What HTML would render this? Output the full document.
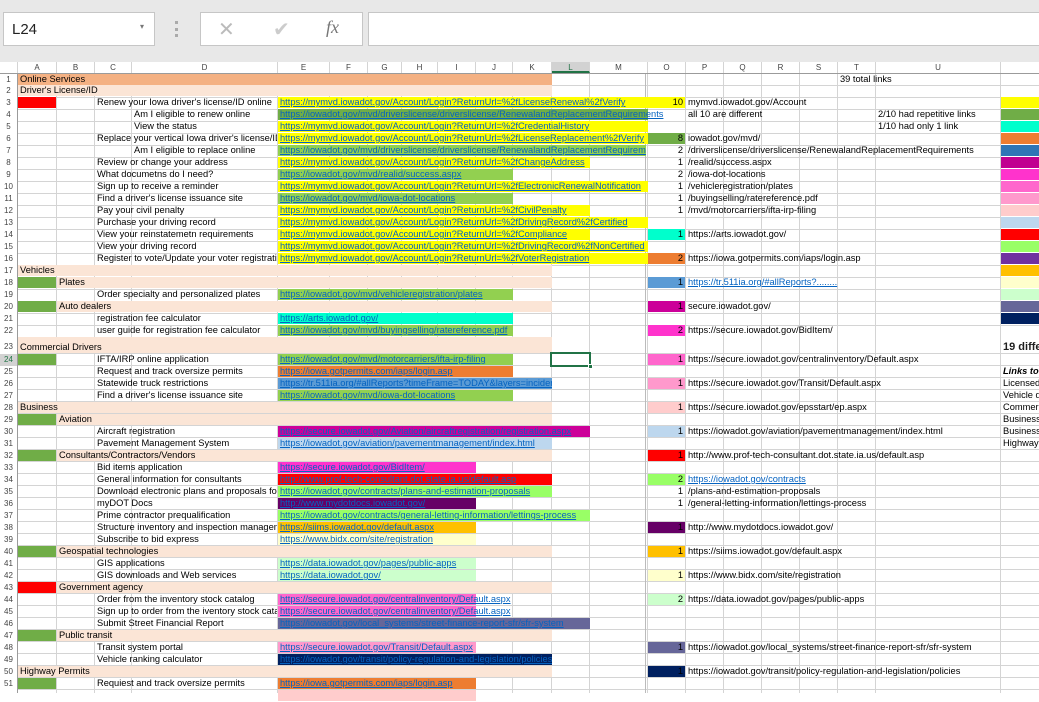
<!DOCTYPE html>
<html><head><meta charset="utf-8"><style>
*{margin:0;padding:0;box-sizing:border-box}
body{width:1039px;height:693px;overflow:hidden;background:#fff;font-family:"Liberation Sans",Arial,sans-serif;font-size:9.3px;color:#000;position:relative}
.top{position:absolute;left:0;top:0;width:1039px;height:62px;background:#e8e8e8}
.box{position:absolute;background:#fff;border:1px solid #c6c6c6}
.hdr{position:absolute;left:0;top:62px;width:1039px;height:12px;background:#fff;border-bottom:1px solid #9b9b9b}
.hc{position:absolute;top:0;height:11px;line-height:11px;text-align:center;color:#444;font-size:8px;border-right:1px solid #d4d4d4}
.grid{position:absolute;left:0;width:1039px}
.vl{position:absolute;top:74px;width:1px;height:619px;background:#d4d4d4}
.r{position:absolute;left:0;width:1039px;height:12px}
.c{position:absolute;top:0;height:11px;line-height:11px;white-space:nowrap;overflow:hidden;padding-left:2px}
.a{color:#0563c1;text-decoration:underline}
.n{text-align:right;padding-right:2px;padding-left:0}
.pe{background:#fbe5d6}
</style></head><body>
<div class="top">
 <div class="box" style="left:3px;top:12px;width:152px;height:34px"><span style="position:absolute;left:8px;top:8px;font-size:15px;color:#222">L24</span><span style="position:absolute;left:136px;top:9px;font-size:8px;color:#777">▾</span></div>
 <div style="position:absolute;left:175px;top:21px;width:3px;height:16px;border-left:3px dotted #aaa"></div>
 <div class="box" style="left:200px;top:12px;width:163px;height:34px"><span style="position:absolute;left:17px;top:4px;font-size:20px;color:#bbb">✕</span><span style="position:absolute;left:72px;top:4px;font-size:20px;color:#ccc">✔</span><span style="position:absolute;left:125px;top:4px;font-size:18px;font-style:italic;font-family:'Liberation Serif',serif;color:#777">fx</span></div>
 <div class="box" style="left:368px;top:12px;width:680px;height:34px"></div>
</div>
<div class="hdr">
 <div class="hc" style="left:0;width:18px"></div>
 <div class="hc" style="left:18px;width:39px">A</div><div class="hc" style="left:57px;width:38px">B</div><div class="hc" style="left:95px;width:37px">C</div><div class="hc" style="left:132px;width:146px">D</div><div class="hc" style="left:278px;width:52px">E</div><div class="hc" style="left:330px;width:38px">F</div><div class="hc" style="left:368px;width:34px">G</div><div class="hc" style="left:402px;width:36px">H</div><div class="hc" style="left:438px;width:38px">I</div><div class="hc" style="left:476px;width:37px">J</div><div class="hc" style="left:513px;width:39px">K</div><div class="hc" style="left:552px;width:38px;background:#d2d2d2;color:#217346;border-bottom:2px solid #217346">L</div><div class="hc" style="left:590px;width:58px">M</div><div class="hc" style="left:648px;width:38px">O</div><div class="hc" style="left:686px;width:38px">P</div><div class="hc" style="left:724px;width:38px">Q</div><div class="hc" style="left:762px;width:38px">R</div><div class="hc" style="left:800px;width:38px">S</div><div class="hc" style="left:838px;width:38px">T</div><div class="hc" style="left:876px;width:125px">U</div>
</div>
<div class="grid" style="top:74px;height:263px;background:repeating-linear-gradient(to bottom,transparent 0,transparent 11px,#d4d4d4 11px,#d4d4d4 12px)"></div>
<div class="grid" style="top:353px;height:1px;background:#d4d4d4"></div>
<div class="grid" style="top:354px;height:339px;background:repeating-linear-gradient(to bottom,transparent 0,transparent 11px,#d4d4d4 11px,#d4d4d4 12px)"></div>
<div class="vl" style="left:56px"></div><div class="vl" style="left:94px"></div><div class="vl" style="left:131px"></div><div class="vl" style="left:277px"></div><div class="vl" style="left:329px"></div><div class="vl" style="left:367px"></div><div class="vl" style="left:401px"></div><div class="vl" style="left:437px"></div><div class="vl" style="left:475px"></div><div class="vl" style="left:512px"></div><div class="vl" style="left:551px"></div><div class="vl" style="left:589px"></div><div class="vl" style="left:645px;background:#bbb"></div><div class="vl" style="left:647px"></div><div class="vl" style="left:685px"></div><div class="vl" style="left:723px"></div><div class="vl" style="left:761px"></div><div class="vl" style="left:799px"></div><div class="vl" style="left:837px"></div><div class="vl" style="left:875px"></div><div class="vl" style="left:1000px"></div>

<div class="r" style="top:74px"><div class="c" style="left:18px;width:534px;background:#f4b183">Online Services</div><div class="c" style="left:838px;width:120px">39 total links</div></div>
<div class="r" style="top:85px"><div class="c pe" style="left:18px;width:534px">Driver's License/ID</div></div>
<div class="r" style="top:97px"><div class="c" style="left:18px;width:38px;background:#f00"></div><div class="c" style="left:95px;width:182px">Renew your Iowa driver's license/ID online</div><div class="c a" style="left:278px;width:370px;background:#ff0">https://mymvd.iowadot.gov/Account/Login?ReturnUrl=%2fLicenseRenewal%2fVerify</div><div class="c n" style="left:648px;width:37px;background:#ff0">10</div><div class="c" style="left:686px;width:150px">mymvd.iowadot.gov/Account</div><div class="c" style="left:1001px;width:38px;background:#ff0"></div></div>
<div class="r" style="top:109px"><div class="c" style="left:132px;width:145px">Am I eligible to renew online</div><div class="c" style="left:278px;width:370px;background:#70ad47"></div><div class="c a" style="left:278px;width:400px">https://iowadot.gov/mvd/driverslicense/driverslicense/RenewalandReplacementRequirements</div><div class="c" style="left:686px;width:110px">all 10 are different</div><div class="c" style="left:876px;width:124px">2/10 had repetitive links</div><div class="c" style="left:1001px;width:38px;background:#70ad47"></div></div>
<div class="r" style="top:121px"><div class="c" style="left:132px;width:145px">View the status</div><div class="c a" style="left:278px;width:370px;background:#ff0">https://mymvd.iowadot.gov/Account/Login?ReturnUrl=%2fCredentialHistory</div><div class="c" style="left:876px;width:124px">1/10 had only 1 link</div><div class="c" style="left:1001px;width:38px;background:#00ffcc"></div></div>
<div class="r" style="top:133px"><div class="c" style="left:95px;width:182px">Replace your vertical Iowa driver's license/ID</div><div class="c a" style="left:278px;width:370px;background:#ff0">https://mymvd.iowadot.gov/Account/Login?ReturnUrl=%2fLicenseReplacement%2fVerify</div><div class="c n" style="left:648px;width:37px;background:#70ad47">8</div><div class="c" style="left:686px;width:150px">iowadot.gov/mvd/</div><div class="c" style="left:1001px;width:38px;background:#ed7d31"></div></div>
<div class="r" style="top:145px"><div class="c" style="left:132px;width:145px">Am I eligible to replace online</div><div class="c a" style="left:278px;width:368px;background:#92d050">https://iowadot.gov/mvd/driverslicense/driverslicense/RenewalandReplacementRequirements</div><div class="c n" style="left:648px;width:37px">2</div><div class="c" style="left:686px;width:314px">/driverslicense/driverslicense/RenewalandReplacementRequirements</div><div class="c" style="left:1001px;width:38px;background:#2e75b6"></div></div>
<div class="r" style="top:157px"><div class="c" style="left:95px;width:182px">Review or change your address</div><div class="c a" style="left:278px;width:312px;background:#ff0">https://mymvd.iowadot.gov/Account/Login?ReturnUrl=%2fChangeAddress</div><div class="c n" style="left:648px;width:37px">1</div><div class="c" style="left:686px;width:150px">/realid/success.aspx</div><div class="c" style="left:1001px;width:38px;background:#c00090"></div></div>
<div class="r" style="top:169px"><div class="c" style="left:95px;width:182px">What documetns do I need?</div><div class="c a" style="left:278px;width:235px;background:#92d050">https://iowadot.gov/mvd/realid/success.aspx</div><div class="c n" style="left:648px;width:37px">2</div><div class="c" style="left:686px;width:150px">/iowa-dot-locations</div><div class="c" style="left:1001px;width:38px;background:#ff33cc"></div></div>
<div class="r" style="top:181px"><div class="c" style="left:95px;width:182px">Sign up to receive a reminder</div><div class="c a" style="left:278px;width:370px;background:#ff0">https://mymvd.iowadot.gov/Account/Login?ReturnUrl=%2fElectronicRenewalNotification</div><div class="c n" style="left:648px;width:37px">1</div><div class="c" style="left:686px;width:150px">/vehicleregistration/plates</div><div class="c" style="left:1001px;width:38px;background:#ff66cc"></div></div>
<div class="r" style="top:193px"><div class="c" style="left:95px;width:182px">Find a driver's license issuance site</div><div class="c a" style="left:278px;width:235px;background:#92d050">https://iowadot.gov/mvd/iowa-dot-locations</div><div class="c n" style="left:648px;width:37px">1</div><div class="c" style="left:686px;width:150px">/buyingselling/ratereference.pdf</div><div class="c" style="left:1001px;width:38px;background:#ff99cc"></div></div>
<div class="r" style="top:205px"><div class="c" style="left:95px;width:182px">Pay your civil penalty</div><div class="c a" style="left:278px;width:312px;background:#ff0">https://mymvd.iowadot.gov/Account/Login?ReturnUrl=%2fCivilPenalty</div><div class="c n" style="left:648px;width:37px">1</div><div class="c" style="left:686px;width:150px">/mvd/motorcarriers/ifta-irp-filing</div><div class="c" style="left:1001px;width:38px;background:#ffcccc"></div></div>
<div class="r" style="top:217px"><div class="c" style="left:95px;width:182px">Purchase your driving record</div><div class="c a" style="left:278px;width:370px;background:#ff0">https://mymvd.iowadot.gov/Account/Login?ReturnUrl=%2fDrivingRecord%2fCertified</div><div class="c" style="left:1001px;width:38px;background:#bdd7ee"></div></div>
<div class="r" style="top:229px"><div class="c" style="left:95px;width:182px">View your reinstatemetn requirements</div><div class="c a" style="left:278px;width:312px;background:#ff0">https://mymvd.iowadot.gov/Account/Login?ReturnUrl=%2fCompliance</div><div class="c n" style="left:648px;width:37px;background:#00ffcc">1</div><div class="c" style="left:686px;width:150px">https://arts.iowadot.gov/</div><div class="c" style="left:1001px;width:38px;background:#f00"></div></div>
<div class="r" style="top:241px"><div class="c" style="left:95px;width:182px">View your driving record</div><div class="c a" style="left:278px;width:370px;background:#ff0">https://mymvd.iowadot.gov/Account/Login?ReturnUrl=%2fDrivingRecord%2fNonCertified</div><div class="c" style="left:1001px;width:38px;background:#99ff66"></div></div>
<div class="r" style="top:253px"><div class="c" style="left:95px;width:182px">Register to vote/Update your voter registration</div><div class="c a" style="left:278px;width:370px;background:#ff0">https://mymvd.iowadot.gov/Account/Login?ReturnUrl=%2fVoterRegistration</div><div class="c n" style="left:648px;width:37px;background:#ed7d31">2</div><div class="c" style="left:686px;width:200px">https://iowa.gotpermits.com/iaps/login.asp</div><div class="c" style="left:1001px;width:38px;background:#7030a0"></div></div>
<div class="r" style="top:265px"><div class="c pe" style="left:18px;width:534px">Vehicles</div><div class="c" style="left:1001px;width:38px;background:#ffc000"></div></div>
<div class="r" style="top:277px"><div class="c" style="left:18px;width:38px;background:#70ad47"></div><div class="c pe" style="left:57px;width:495px">Plates</div><div class="c n" style="left:648px;width:37px;background:#5b9bd5">1</div><div class="c a" style="left:686px;width:170px">https://tr.511ia.org/#allReports?........</div><div class="c" style="left:1001px;width:38px;background:#ffffcc"></div></div>
<div class="r" style="top:289px"><div class="c" style="left:95px;width:182px">Order specialty and personalized plates</div><div class="c a" style="left:278px;width:235px;background:#92d050">https://iowadot.gov/mvd/vehicleregistration/plates</div><div class="c" style="left:1001px;width:38px;background:#ccffcc"></div></div>
<div class="r" style="top:301px"><div class="c" style="left:18px;width:38px;background:#70ad47"></div><div class="c pe" style="left:57px;width:495px">Auto dealers</div><div class="c n" style="left:648px;width:37px;background:#cc0099">1</div><div class="c" style="left:686px;width:150px">secure.iowadot.gov/</div><div class="c" style="left:1001px;width:38px;background:#666699"></div></div>
<div class="r" style="top:313px"><div class="c" style="left:95px;width:182px">registration fee calculator</div><div class="c a" style="left:278px;width:235px;background:#00ffcc">https://arts.iowadot.gov/</div><div class="c" style="left:1001px;width:38px;background:#002060"></div></div>
<div class="r" style="top:325px"><div class="c" style="left:95px;width:182px">user guide for registration fee calculator</div><div class="c a" style="left:278px;width:235px;background:#92d050">https://iowadot.gov/mvd/buyingselling/ratereference.pdf</div><div class="c n" style="left:648px;width:37px;background:#ff33cc">2</div><div class="c" style="left:686px;width:180px">https://secure.iowadot.gov/BidItem/</div></div>
<div class="r" style="top:337px;height:17px"><div class="c pe" style="left:18px;width:534px;height:16px;line-height:20px">Commercial Drivers</div><div class="c" style="left:1001px;width:38px;height:16px;line-height:20px;font-weight:bold;font-size:11px;color:#1f1f1f">19 different</div></div>
<div class="r" style="top:354px"><div class="c" style="left:18px;width:38px;background:#70ad47"></div><div class="c" style="left:95px;width:182px">IFTA/IRP online application</div><div class="c a" style="left:278px;width:235px;background:#92d050">https://iowadot.gov/mvd/motorcarriers/ifta-irp-filing</div><div class="c n" style="left:648px;width:37px;background:#ff66cc">1</div><div class="c" style="left:686px;width:250px">https://secure.iowadot.gov/centralinventory/Default.aspx</div></div>
<div class="r" style="top:366px"><div class="c" style="left:95px;width:182px">Request and track oversize permits</div><div class="c a" style="left:278px;width:235px;background:#ed7d31">https://iowa.gotpermits.com/iaps/login.asp</div><div class="c" style="left:1001px;width:38px;font-weight:bold;font-style:italic">Links to</div></div>
<div class="r" style="top:378px"><div class="c" style="left:95px;width:182px">Statewide truck restrictions</div><div class="c a" style="left:278px;width:274px;background:#5b9bd5">https://tr.511ia.org/#allReports?timeFrame=TODAY&amp;layers=incidents</div><div class="c n" style="left:648px;width:37px;background:#ff99cc">1</div><div class="c" style="left:686px;width:250px">https://secure.iowadot.gov/Transit/Default.aspx</div><div class="c" style="left:1001px;width:38px">Licensed</div></div>
<div class="r" style="top:390px"><div class="c" style="left:95px;width:182px">Find a driver's license issuance site</div><div class="c a" style="left:278px;width:235px;background:#92d050">https://iowadot.gov/mvd/iowa-dot-locations</div><div class="c" style="left:1001px;width:38px">Vehicle d</div></div>
<div class="r" style="top:402px"><div class="c pe" style="left:18px;width:534px">Business</div><div class="c n" style="left:648px;width:37px;background:#ffcccc">1</div><div class="c" style="left:686px;width:250px">https://secure.iowadot.gov/epsstart/ep.aspx</div><div class="c" style="left:1001px;width:38px">Commerc</div></div>
<div class="r" style="top:414px"><div class="c" style="left:18px;width:38px;background:#70ad47"></div><div class="c pe" style="left:57px;width:495px">Aviation</div><div class="c" style="left:1001px;width:38px">Business</div></div>
<div class="r" style="top:426px"><div class="c" style="left:95px;width:182px">Aircraft registration</div><div class="c a" style="left:278px;width:312px;background:#cc0099">https://secure.iowadot.gov/Aviation/aircraftregistration/registration.aspx</div><div class="c n" style="left:648px;width:37px;background:#bdd7ee">1</div><div class="c" style="left:686px;width:280px">https://iowadot.gov/aviation/pavementmanagement/index.html</div><div class="c" style="left:1001px;width:38px">Business</div></div>
<div class="r" style="top:438px"><div class="c" style="left:95px;width:182px">Pavement Management System</div><div class="c a" style="left:278px;width:274px;background:#bdd7ee">https://iowadot.gov/aviation/pavementmanagement/index.html</div><div class="c" style="left:1001px;width:38px">Highway</div></div>
<div class="r" style="top:450px"><div class="c" style="left:18px;width:38px;background:#70ad47"></div><div class="c pe" style="left:57px;width:495px">Consultants/Contractors/Vendors</div><div class="c n" style="left:648px;width:37px;background:#f00">1</div><div class="c" style="left:686px;width:280px">http://www.prof-tech-consultant.dot.state.ia.us/default.asp</div></div>
<div class="r" style="top:462px"><div class="c" style="left:95px;width:182px">Bid items application</div><div class="c a" style="left:278px;width:198px;background:#ff33cc">https://secure.iowadot.gov/BidItem/</div></div>
<div class="r" style="top:474px"><div class="c" style="left:95px;width:182px">General information for consultants</div><div class="c a" style="left:278px;width:274px;background:#f00">http://www.prof-tech-consultant.dot.state.ia.us/default.asp</div><div class="c n" style="left:648px;width:37px;background:#99ff66">2</div><div class="c a" style="left:686px;width:200px">https://iowadot.gov/contracts</div></div>
<div class="r" style="top:486px"><div class="c" style="left:95px;width:182px">Download electronic plans and proposals for</div><div class="c a" style="left:278px;width:274px;background:#99ff66">https://iowadot.gov/contracts/plans-and-estimation-proposals</div><div class="c n" style="left:648px;width:37px">1</div><div class="c" style="left:686px;width:250px">/plans-and-estimation-proposals</div></div>
<div class="r" style="top:498px"><div class="c" style="left:95px;width:182px">myDOT Docs</div><div class="c a" style="left:278px;width:198px;background:#660066">http://www.mydotdocs.iowadot.gov/</div><div class="c n" style="left:648px;width:37px">1</div><div class="c" style="left:686px;width:250px">/general-letting-information/lettings-process</div></div>
<div class="r" style="top:510px"><div class="c" style="left:95px;width:182px">Prime contractor prequalification</div><div class="c a" style="left:278px;width:312px;background:#99ff66">https://iowadot.gov/contracts/general-letting-information/lettings-process</div></div>
<div class="r" style="top:522px"><div class="c" style="left:95px;width:182px">Structure inventory and inspection management</div><div class="c a" style="left:278px;width:198px;background:#ffc000">https://siims.iowadot.gov/default.aspx</div><div class="c n" style="left:648px;width:37px;background:#660066">1</div><div class="c" style="left:686px;width:250px">http://www.mydotdocs.iowadot.gov/</div></div>
<div class="r" style="top:534px"><div class="c" style="left:95px;width:182px">Subscribe to bid express</div><div class="c a" style="left:278px;width:198px;background:#ffffcc">https://www.bidx.com/site/registration</div></div>
<div class="r" style="top:546px"><div class="c" style="left:18px;width:38px;background:#70ad47"></div><div class="c pe" style="left:57px;width:495px">Geospatial technologies</div><div class="c n" style="left:648px;width:37px;background:#ffc000">1</div><div class="c" style="left:686px;width:250px">https://siims.iowadot.gov/default.aspx</div></div>
<div class="r" style="top:558px"><div class="c" style="left:95px;width:182px">GIS applications</div><div class="c a" style="left:278px;width:198px;background:#ccffcc">https://data.iowadot.gov/pages/public-apps</div></div>
<div class="r" style="top:570px"><div class="c" style="left:95px;width:182px">GIS downloads and Web services</div><div class="c a" style="left:278px;width:198px;background:#ccffcc">https://data.iowadot.gov/</div><div class="c n" style="left:648px;width:37px;background:#ffffcc">1</div><div class="c" style="left:686px;width:250px">https://www.bidx.com/site/registration</div></div>
<div class="r" style="top:582px"><div class="c" style="left:18px;width:38px;background:#f00"></div><div class="c pe" style="left:57px;width:495px">Government agency</div></div>
<div class="r" style="top:594px"><div class="c" style="left:95px;width:182px">Order from the inventory stock catalog</div><div class="c" style="left:278px;width:198px;background:#ff66cc"></div><div class="c a" style="left:278px;width:260px">https://secure.iowadot.gov/centralinventory/Default.aspx</div><div class="c n" style="left:648px;width:37px;background:#ccffcc">2</div><div class="c" style="left:686px;width:250px">https://data.iowadot.gov/pages/public-apps</div></div>
<div class="r" style="top:606px"><div class="c" style="left:95px;width:182px">Sign up to order from the iventory stock catalog</div><div class="c" style="left:278px;width:198px;background:#ff66cc"></div><div class="c a" style="left:278px;width:260px">https://secure.iowadot.gov/centralinventory/Default.aspx</div></div>
<div class="r" style="top:618px"><div class="c" style="left:95px;width:182px">Submit Street Financial Report</div><div class="c a" style="left:278px;width:312px;background:#666699">https://iowadot.gov/local_systems/street-finance-report-sfr/sfr-system</div></div>
<div class="r" style="top:630px"><div class="c" style="left:18px;width:38px;background:#70ad47"></div><div class="c pe" style="left:57px;width:495px">Public transit</div></div>
<div class="r" style="top:642px"><div class="c" style="left:95px;width:182px">Transit system portal</div><div class="c a" style="left:278px;width:198px;background:#ff99cc">https://secure.iowadot.gov/Transit/Default.aspx</div><div class="c n" style="left:648px;width:37px;background:#666699">1</div><div class="c" style="left:686px;width:314px">https://iowadot.gov/local_systems/street-finance-report-sfr/sfr-system</div></div>
<div class="r" style="top:654px"><div class="c" style="left:95px;width:182px">Vehicle ranking calculator</div><div class="c a" style="left:278px;width:274px;background:#002060">https://iowadot.gov/transit/policy-regulation-and-legislation/policies</div></div>
<div class="r" style="top:666px"><div class="c pe" style="left:18px;width:534px">Highway Permits</div><div class="c n" style="left:648px;width:37px;background:#002060">1</div><div class="c" style="left:686px;width:314px">https://iowadot.gov/transit/policy-regulation-and-legislation/policies</div></div>
<div class="r" style="top:678px"><div class="c" style="left:18px;width:38px;background:#70ad47"></div><div class="c" style="left:95px;width:182px">Requiest and track oversize permits</div><div class="c a" style="left:278px;width:198px;background:#ed7d31">https://iowa.gotpermits.com/iaps/login.asp</div></div>
<div class="r" style="top:690px"><div class="c" style="left:278px;width:198px;background:#ffcccc"></div></div>

<div style="position:absolute;left:0;top:74px;width:18px;height:619px;border-right:1px solid #9b9b9b;background:#fff;font-size:8px;color:#444;text-align:center">
<div style="position:absolute;top:0;width:17px;line-height:11px">1</div><div style="position:absolute;top:11px;width:17px;line-height:12px">2</div><div style="position:absolute;top:23px;width:17px;line-height:12px">3</div><div style="position:absolute;top:35px;width:17px;line-height:12px">4</div><div style="position:absolute;top:47px;width:17px;line-height:12px">5</div><div style="position:absolute;top:59px;width:17px;line-height:12px">6</div><div style="position:absolute;top:71px;width:17px;line-height:12px">7</div><div style="position:absolute;top:83px;width:17px;line-height:12px">8</div><div style="position:absolute;top:95px;width:17px;line-height:12px">9</div><div style="position:absolute;top:107px;width:17px;line-height:12px">10</div><div style="position:absolute;top:119px;width:17px;line-height:12px">11</div><div style="position:absolute;top:131px;width:17px;line-height:12px">12</div><div style="position:absolute;top:143px;width:17px;line-height:12px">13</div><div style="position:absolute;top:155px;width:17px;line-height:12px">14</div><div style="position:absolute;top:167px;width:17px;line-height:12px">15</div><div style="position:absolute;top:179px;width:17px;line-height:12px">16</div><div style="position:absolute;top:191px;width:17px;line-height:12px">17</div><div style="position:absolute;top:203px;width:17px;line-height:12px">18</div><div style="position:absolute;top:215px;width:17px;line-height:12px">19</div><div style="position:absolute;top:227px;width:17px;line-height:12px">20</div><div style="position:absolute;top:239px;width:17px;line-height:12px">21</div><div style="position:absolute;top:251px;width:17px;line-height:12px">22</div><div style="position:absolute;top:263px;width:17px;line-height:20px">23</div><div style="position:absolute;top:280px;width:17px;line-height:12px;background:#d2d2d2;color:#217346">24</div><div style="position:absolute;top:292px;width:17px;line-height:12px">25</div><div style="position:absolute;top:304px;width:17px;line-height:12px">26</div><div style="position:absolute;top:316px;width:17px;line-height:12px">27</div><div style="position:absolute;top:328px;width:17px;line-height:12px">28</div><div style="position:absolute;top:340px;width:17px;line-height:12px">29</div><div style="position:absolute;top:352px;width:17px;line-height:12px">30</div><div style="position:absolute;top:364px;width:17px;line-height:12px">31</div><div style="position:absolute;top:376px;width:17px;line-height:12px">32</div><div style="position:absolute;top:388px;width:17px;line-height:12px">33</div><div style="position:absolute;top:400px;width:17px;line-height:12px">34</div><div style="position:absolute;top:412px;width:17px;line-height:12px">35</div><div style="position:absolute;top:424px;width:17px;line-height:12px">36</div><div style="position:absolute;top:436px;width:17px;line-height:12px">37</div><div style="position:absolute;top:448px;width:17px;line-height:12px">38</div><div style="position:absolute;top:460px;width:17px;line-height:12px">39</div><div style="position:absolute;top:472px;width:17px;line-height:12px">40</div><div style="position:absolute;top:484px;width:17px;line-height:12px">41</div><div style="position:absolute;top:496px;width:17px;line-height:12px">42</div><div style="position:absolute;top:508px;width:17px;line-height:12px">43</div><div style="position:absolute;top:520px;width:17px;line-height:12px">44</div><div style="position:absolute;top:532px;width:17px;line-height:12px">45</div><div style="position:absolute;top:544px;width:17px;line-height:12px">46</div><div style="position:absolute;top:556px;width:17px;line-height:12px">47</div><div style="position:absolute;top:568px;width:17px;line-height:12px">48</div><div style="position:absolute;top:580px;width:17px;line-height:12px">49</div><div style="position:absolute;top:592px;width:17px;line-height:12px">50</div><div style="position:absolute;top:604px;width:17px;line-height:12px">51</div>
</div>
<div style="position:absolute;left:550px;top:352px;width:41px;height:15px;border:2px solid #217346"></div>
<div style="position:absolute;left:588px;top:364px;width:5px;height:5px;background:#217346;border:1px solid #fff"></div>
</body></html>
